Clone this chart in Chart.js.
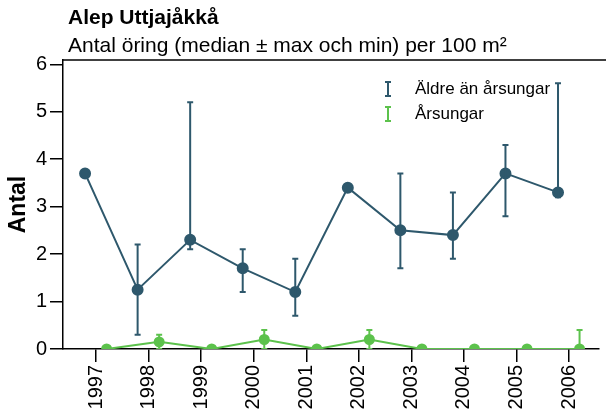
<!DOCTYPE html>
<html>
<head>
<meta charset="utf-8">
<script src="https://cdn.jsdelivr.net/npm/chart.js@4/dist/chart.umd.min.js"></script>
<style>
  body { margin: 0; background: #fff; }
  #wrap { width: 606px; height: 412px; }
</style>
</head>
<body>
<div id="wrap"><canvas id="myChart"></canvas></div>
<script>
const years = [1997, 1998, 1999, 2000, 2001, 2002, 2003, 2004, 2005, 2006];
const yTicks = [0, 1, 2, 3, 4, 5, 6];

const olderMedian = [3.7, 1.25, 2.3, 1.7, 1.2, 3.4, 2.5, 2.4, 3.7, 3.3];
const olderMax    = [3.7, 2.2, 5.2, 2.1, 1.9, 3.4, 3.7, 3.3, 4.3, 5.6];
const olderMin    = [3.7, 0.3, 2.1, 1.2, 0.7, 3.4, 1.7, 1.9, 2.8, 3.2];

const youngMedian = [0, 0.15, 0, 0.2, 0, 0.2, 0, 0, 0, 0];
const youngMax    = [0, 0.3, 0, 0.4, 0, 0.4, 0, 0, 0, 0.4];
const youngMin    = [0, 0, 0, 0, 0, 0, 0, 0, 0, 0];

const blue = "#2e586c";
const green = "#5cc24c";
const font = "'Liberation Sans', Arial, sans-serif";

// small dodge so the two series sit either side of the year tick
function pts(vals, shift) {
  return years.map((yr, i) => ({ x: yr + shift, y: vals[i] }));
}

const decor = {
  id: "decor",
  beforeDraw(chart) {
    const ctx = chart.ctx;
    ctx.save();
    ctx.fillStyle = "#fff";
    ctx.fillRect(0, 0, chart.width, chart.height);
    ctx.restore();
  },
  afterDatasetsDraw(chart) {
    const ctx = chart.ctx;
    const area = chart.chartArea;
    const xs = chart.scales.x, ys = chart.scales.y;
    ctx.save();
    ctx.beginPath();
    ctx.rect(area.left, area.top, area.right - area.left, area.bottom - area.top);
    ctx.clip();
    chart.data.datasets.forEach(ds => {
      ctx.strokeStyle = ds.borderColor;
      ctx.lineWidth = 2;
      ds.data.forEach((p, i) => {
        const lo = ds.errMin[i], hi = ds.errMax[i];
        if (lo === hi) return;
        const x = xs.getPixelForValue(p.x);
        const y1 = ys.getPixelForValue(hi), y2 = ys.getPixelForValue(lo);
        ctx.beginPath();
        ctx.moveTo(x, y1); ctx.lineTo(x, y2);
        ctx.moveTo(x - 3, y1); ctx.lineTo(x + 3, y1);
        ctx.moveTo(x - 3, y2); ctx.lineTo(x + 3, y2);
        ctx.stroke();
      });
    });
    ctx.restore();
  },
  afterDraw(chart) {
    const ctx = chart.ctx;
    const area = chart.chartArea;
    ctx.save();
    ctx.fillStyle = "#000";
    ctx.textBaseline = "middle";
    ctx.textAlign = "left";
    ctx.font = "bold 21px " + font;
    ctx.fillText("Alep Uttjajåkkå", 68, 18);
    ctx.font = "21px " + font;
    ctx.fillText("Antal öring (median ± max och min) per 100 m²", 68, 46);

    // top border of the panel
    ctx.strokeStyle = "#000";
    ctx.lineWidth = 1.5;
    ctx.beginPath();
    ctx.moveTo(area.left, area.top);
    ctx.lineTo(chart.width, area.top);
    ctx.stroke();

    ctx.save();
    ctx.translate(19, (area.top + area.bottom) / 2);
    ctx.rotate(-Math.PI / 2);
    ctx.textAlign = "center";
    ctx.font = "bold 23px " + font;
    ctx.fillText("Antal", 0, 0);
    ctx.restore();

    // legend
    ctx.font = "17px " + font;
    chart.data.datasets.forEach((ds, i) => {
      const y = 89 + i * 25;
      ctx.strokeStyle = ds.borderColor;
      ctx.lineWidth = 2;
      ctx.beginPath();
      ctx.moveTo(388, y - 7); ctx.lineTo(388, y + 7);
      ctx.moveTo(385, y - 7); ctx.lineTo(391, y - 7);
      ctx.moveTo(385, y + 7); ctx.lineTo(391, y + 7);
      ctx.stroke();
      ctx.fillStyle = "#000";
      ctx.fillText(ds.label, 415, y);
    });
    ctx.restore();
  }
};

new Chart("myChart", {
  type: "line",
  data: {
    datasets: [
      {
        label: "Äldre än årsungar",
        data: pts(olderMedian, -0.21),
        errMin: olderMin,
        errMax: olderMax,
        borderColor: blue,
        backgroundColor: blue,
        borderWidth: 2,
        pointRadius: 5,
        tension: 0
      },
      {
        label: "Årsungar",
        data: pts(youngMedian, 0.2),
        errMin: youngMin,
        errMax: youngMax,
        borderColor: green,
        backgroundColor: green,
        borderWidth: 2,
        pointRadius: 4.5,
        tension: 0,
        clip: { left: false, top: false, right: false, bottom: 0 }
      }
    ]
  },
  options: {
    responsive: true,
    maintainAspectRatio: false,
    animation: false,
    events: [],
    layout: { padding: { top: 60, left: 0, right: 0, bottom: 0 } },
    plugins: {
      legend: { display: false },
      title: { display: false },
      tooltip: { enabled: false }
    },
    scales: {
      x: {
        type: "linear",
        min: 1996.37,
        max: 2006.57,
        afterBuildTicks: s => { s.ticks = years.map(v => ({ value: v })); },
        afterFit: s => { s.height = 63; },
        border: { color: "#000", width: 1.5 },
        grid: { drawOnChartArea: false, color: "#000", tickLength: 13, lineWidth: 1.5 },
        ticks: {
          color: "#000",
          font: { size: 20, family: font },
          padding: 3,
          minRotation: 90,
          maxRotation: 90,
          autoSkip: false,
          callback: v => String(v)
        }
      },
      y: {
        min: 0,
        max: 6.09,
        afterBuildTicks: s => { s.ticks = yTicks.map(v => ({ value: v })); },
        afterFit: s => { s.width = 63; },
        border: { color: "#000", width: 1.5 },
        grid: { drawOnChartArea: false, color: "#000", tickLength: 13, lineWidth: 1.5 },
        ticks: {
          color: "#000",
          font: { size: 20, family: font },
          padding: 3
        }
      }
    }
  },
  plugins: [decor]
});
</script>
</body>
</html>
